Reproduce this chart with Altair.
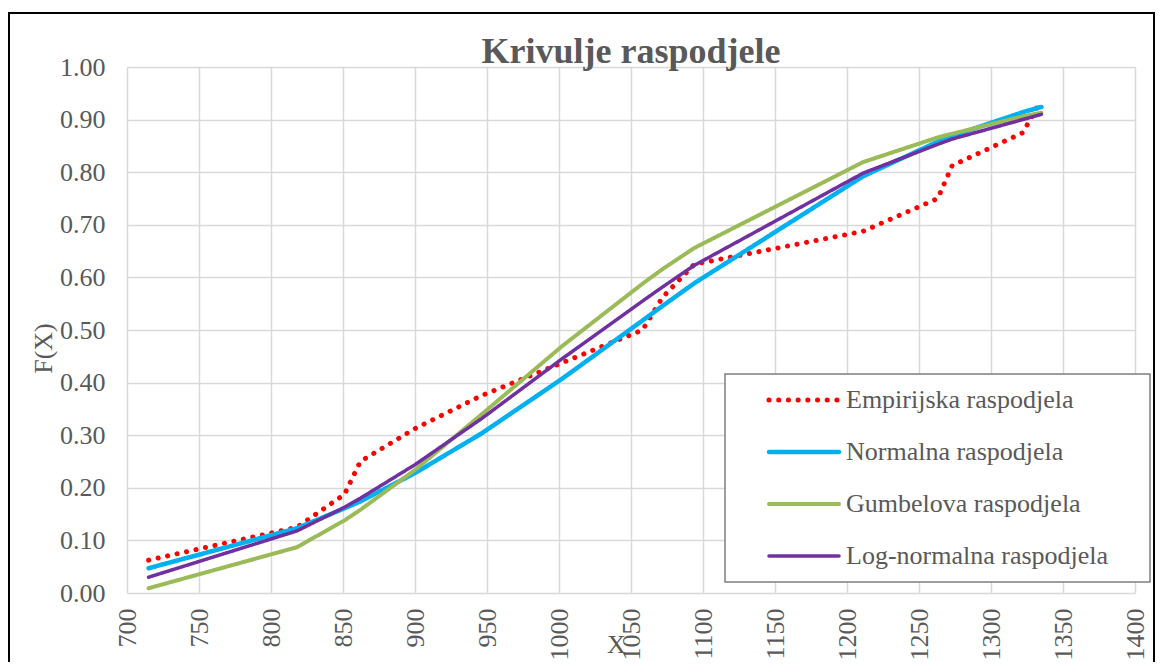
import altair as alt
import pandas as pd

# ---- data ----
x_vals = [715, 818, 851, 862, 900, 946, 1002, 1058, 1072, 1094, 1211, 1263, 1273, 1322, 1335]
empirical = [0.0625, 0.125, 0.1875, 0.25, 0.3125, 0.375, 0.4375, 0.5, 0.5625, 0.625,
             0.6875, 0.75, 0.8125, 0.875, 0.9375]
normal = [0.047, 0.123, 0.161, 0.174, 0.228, 0.303, 0.407, 0.518, 0.546, 0.589,
          0.792, 0.858, 0.869, 0.914, 0.924]
gumbel = [0.009, 0.087, 0.138, 0.158, 0.234, 0.339, 0.469, 0.588, 0.616, 0.656,
          0.819, 0.866, 0.873, 0.906, 0.913]
lognormal = [0.030, 0.118, 0.163, 0.180, 0.244, 0.331, 0.445, 0.555, 0.582, 0.623,
             0.798, 0.853, 0.863, 0.900, 0.910]

series_names = ["Empirijska raspodjela", "Normalna raspodjela",
                "Gumbelova raspodjela", "Log-normalna raspodjela"]
series_colors = ["#FF0000", "#00B0F0", "#9BBB59", "#7030A0"]
series_dash = [[0.1, 9.6], [1, 0], [1, 0], [1, 0]]
series_width = [5, 3.5, 3.5, 3.5]
legend_rows = [0, 1, 2, 3]

x_ticks = list(range(700, 1401, 50))
y_ticks = [round(i * 0.1, 1) for i in range(11)]

rows = []
for name, vals in zip(series_names, [empirical, normal, gumbel, lognormal]):
    for xv, fv in zip(x_vals, vals):
        rows.append({"X": xv, "F": fv, "serija": name})
df = pd.DataFrame(rows)
leg_df = pd.DataFrame({"serija": series_names, "row": legend_rows})

FONT = "Liberation Serif"
TXT = "#595959"
W, H = 1008, 526

color = alt.Color("serija:N", scale=alt.Scale(domain=series_names, range=series_colors),
                  legend=None)
dash = alt.StrokeDash("serija:N", scale=alt.Scale(domain=series_names, range=series_dash),
                      legend=None)
sw = alt.StrokeWidth("serija:N", scale=alt.Scale(domain=series_names, range=series_width),
                     legend=None)

lines = alt.Chart(df).mark_line(strokeCap="round", strokeJoin="round").encode(
    x=alt.X("X:Q", scale=alt.Scale(domain=[700, 1400], nice=False, zero=False),
            axis=alt.Axis(values=x_ticks, format="d", labelAngle=270, title="X",
                          titleX=489, titleY=38, titleBaseline="top",
                          labelPadding=15)),
    y=alt.Y("F:Q", scale=alt.Scale(domain=[0, 1], nice=False),
            axis=alt.Axis(values=y_ticks, format=".2f", title="F(X)",
                          titleX=-84, titleY=281, titleBaseline="middle",
                          labelPadding=22)),
    color=color,
    strokeDash=dash,
    strokeWidth=sw,
    order=alt.Order("X:Q"),
)

# outer chart frame (decoration)
border = alt.Chart(alt.Data(values=[{"b": 1}])).mark_rect(
    fillOpacity=0, stroke="black", strokeWidth=2, clip=False
).encode(x=alt.value(-118), x2=alt.value(1027), y=alt.value(-54), y2=alt.value(700))

# legend built from the series list
leg_y = alt.Y("row:Q", scale=alt.Scale(domain=[0, 3], range=[333, 489]), axis=None)
leg_box = alt.Chart(alt.Data(values=[{"b": 1}])).mark_rect(
    fill="white", stroke="#7F7F7F", strokeWidth=1.5, clip=False
).encode(x=alt.value(598), x2=alt.value(1023), y=alt.value(307), y2=alt.value(515))
leg_lines = alt.Chart(leg_df).mark_rule(strokeCap="round", clip=False).encode(
    x=alt.value(642), x2=alt.value(712), y=leg_y,
    color=color, strokeDash=dash, strokeWidth=sw,
)
leg_text = alt.Chart(leg_df).mark_text(
    align="left", baseline="middle", font=FONT, fontSize=26, color=TXT, clip=False
).encode(x=alt.value(719), y=leg_y, text="serija:N")

chart = alt.layer(lines, border, leg_box, leg_lines, leg_text).resolve_scale(
    y="independent"
).properties(
    width=W, height=H,
    title=alt.TitleParams("Krivulje raspodjele", font=FONT, fontSize=36, fontWeight="bold",
                          color=TXT, anchor="middle", baseline="alphabetic", offset=3,
                          frame="group", dy=90),
    autosize=alt.AutoSizeParams(type="none"),
    padding={"left": 119, "top": 59, "right": 21, "bottom": 69},
).configure_axis(
    grid=True, gridColor="#D9D9D9", gridWidth=1.5, domain=False, ticks=False,
    labelFont=FONT, labelFontSize=26, labelColor=TXT,
    titleFont=FONT, titleFontSize=26, titleColor=TXT, titleFontWeight="normal",
).configure_view(stroke=None)

chart.save("out.html", embed_options={"renderer": "svg", "actions": False})
